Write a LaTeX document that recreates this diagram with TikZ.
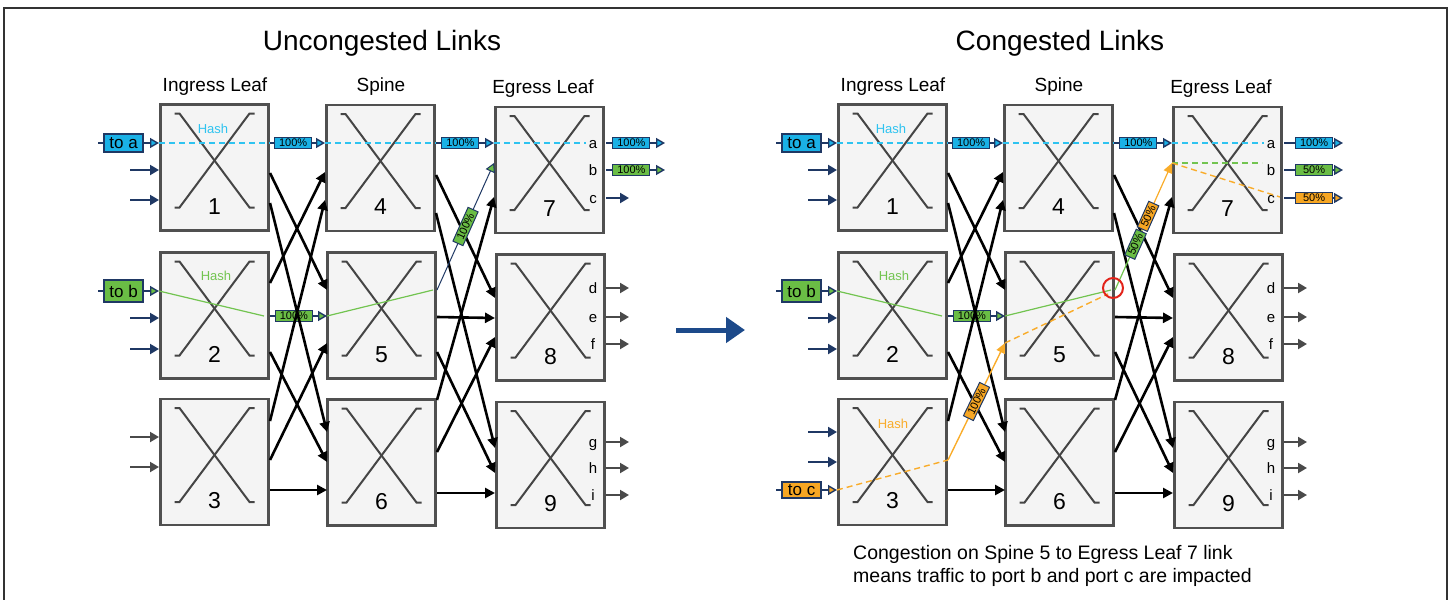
\documentclass[tikz,border=0pt]{standalone}
\usepackage{fontspec}
\setmainfont{Liberation Sans}
\usetikzlibrary{arrows.meta}

\definecolor{navy}{HTML}{1F3864}
\definecolor{tagblue}{HTML}{1AB1E6}
\definecolor{flowblue}{HTML}{2EC3F0}
\definecolor{taggreen}{HTML}{6ABD45}
\definecolor{flowgreen}{HTML}{72C450}
\definecolor{tagorange}{HTML}{F6A623}
\definecolor{floworange}{HTML}{F9AC2A}
\definecolor{boxline}{HTML}{505050}
\definecolor{boxfill}{HTML}{F4F4F4}
\definecolor{xline}{HTML}{454545}
\definecolor{portgray}{HTML}{4A4A4A}
\definecolor{hotred}{HTML}{E2231A}
\definecolor{moveblue}{HTML}{1D4A8A}

\begin{document}
\begin{tikzpicture}[x=1pt, y=-1pt,
  switch/.style={draw=boxline, line width=2.6pt, fill=boxfill, minimum width=108pt, minimum height=126pt, inner sep=0pt},
  cross/.style={draw=xline, line width=2pt},
  num/.style={font=\fontsize{23}{23}\selectfont, anchor=base},
  port/.style={font=\fontsize{15}{15}\selectfont, anchor=base, inner sep=1pt},
  link/.style={line width=2.6pt, -{Triangle[length=10pt,width=10pt]}},
  feed/.style={navy, line width=2pt, -{Triangle[length=9pt,width=10pt]}},
  drain/.style={portgray, line width=2pt, -{Triangle[length=9pt,width=10pt]}},
  tagline/.style={navy, line width=1.4pt},
  tag/.style={draw=navy, text=black, line width=1pt, inner sep=0pt, minimum width=37pt, minimum height=11pt, font=\fontsize{11}{11}\selectfont},
  bigtag/.style={draw=navy, text=black, line width=1.4pt, inner sep=0pt, minimum width=39pt, minimum height=18pt, font=\fontsize{17}{17}\selectfont},
  hash/.style={font=\fontsize{13}{13}\selectfont},
  head/.style={font=\fontsize{19}{19}\selectfont, anchor=base},
  title/.style={font=\fontsize{28}{28}\selectfont, anchor=base},
  flow/.style={line width=1.4pt, dash pattern=on 6pt off 4pt},
  note/.style={font=\fontsize{19.5}{19.5}\selectfont, anchor=base west, inner sep=0pt},
]
\useasboundingbox (0,0) rectangle (1452,600);
\draw[black!80, line width=2pt] (4,612) rectangle (1447,8);

\foreach \p/\dx/\ttl/\tp in {u/0/Uncongested Links/0.43, c/678/Congested Links/0.51}{
\begin{scope}[xshift=\dx pt]
  \node[title] (\p-title) at (382,50) {\ttl};
  \node[head] (\p-ingress) at (215,91) {Ingress Leaf};
  \node[head] (\p-spine) at (381,91) {Spine};
  \node[head] (\p-egress) at (543,93) {Egress Leaf};

  % leaf and spine switches
  \foreach \n/\x/\y in {1/214.5/167.5, 2/214.5/315.5, 3/214.5/462, 4/380.5/168, 5/381.5/315.5,
                        6/381.5/462.5, 7/549.5/170, 8/550.5/317.5, 9/550.5/465}{
    \node[switch] (\p\n) at (\x,\y) {};
    \draw[cross] ([shift={(-40,-54)}]\p\n.center) -- ++(5,0) -- ++(70,94) -- ++(5,0);
    \draw[cross] ([shift={(40,-54)}]\p\n.center) -- ++(-5,0) -- ++(-70,94) -- ++(-5,0);
    \node[num] (\p\n-num) at ([shift={(0,46.5)}]\p\n.center) {\n};
  }

  % uplink / downlink ports
  \foreach \q/\x/\y in {1o1/270/143, 1o2/270/173, 1o3/270/203, 2o1/270/283, 2o2/270/316, 2o3/270/352,
                        3o1/270/421, 3o2/270/460, 3o3/270/490,
                        4i1/325/143, 4i2/325/172, 4i3/325/200, 5i1/327/290, 5i2/327/316, 5i3/327/343,
                        6i1/327/432, 6i2/327/462, 6i3/327/490,
                        4o1/436/143, 4o2/436/175, 4o3/436/213, 5o1/437/290, 5o2/437/317, 5o3/437/352,
                        6o1/437/400, 6o2/437/452, 6o3/437/493,
                        7i1/494/143, 7i2/494/163, 7i3/494/197, 8i1/495/298, 8i2/495/318, 8i3/495/337,
                        9i1/495/448, 9i2/495/473, 9i3/495/493}
    \coordinate (\p\q) at (\x,\y);

  % host ports on the ingress leaves
  \foreach \k/\y in {a/170, b/200, c/318, d/349}{
    \coordinate (\p-src\k) at (130,\y); % invisible node
    \coordinate (\p-dst\k) at (159,\y); % invisible node
    \draw[feed] (\p-src\k) -- (\p-dst\k);
  }

  % host ports on the egress leaves
  \foreach \lt/\y in {a/143, b/170, c/198, d/288, e/317, f/344, g/442, h/468, i/495}{
    \node[port] (\p-\lt) at (593,\y+5) {\lt};
    \coordinate (\p-\lt-out) at (606,\y);
    \coordinate (\p-\lt-end) at (629,\y);
    \coordinate (\p-\lt-far) at (665,\y);
  }
  \foreach \lt in {d,...,i}
    \draw[drain] (\p-\lt-out) -- (\p-\lt-end);

  %% flow to a
  \coordinate (\p-toa-src) at (98,143);
  \coordinate (\p1-toa) at (159,143);
  \coordinate (\p7-a) at (586,143);
  \draw[tagline, -{Triangle[length=9pt,width=10pt,fill=tagblue]}] (\p-toa-src) -- node[bigtag, fill=tagblue, pos=0.42] (\p-toa) {to a} (\p1-toa);
  \node[hash, text=flowblue] (\p-hash1) at (213,129) {Hash};
  \draw[flow, flowblue] (\p1-toa) -- (\p1o1);
  \draw[tagline, -{Triangle[length=9pt,width=10pt,fill=tagblue]}] (\p1o1) -- node[tag, fill=tagblue, pos=0.42] (\p-t14) {100\%} (\p4i1);
  \draw[flow, flowblue] (\p4i1) -- (\p4o1);
  \draw[tagline, -{Triangle[length=9pt,width=10pt,fill=tagblue]}] (\p4o1) -- node[tag, fill=tagblue, pos=0.42] (\p-t47) {100\%} (\p7i1);
  \draw[flow, flowblue] (\p7i1) -- (\p7-a);
  \draw[tagline, -{Triangle[length=9pt,width=10pt,fill=tagblue]}] (\p-a-out) -- node[tag, fill=tagblue, pos=\tp] (\p-ta) {100\%} (\p-a-far);

  %% flow to b
  \coordinate (\p-tob-src) at (98,291);
  \coordinate (\p2-tob) at (159,291);
  \coordinate (\p2-bend) at (264,316);
  \coordinate (\p5-bend) at (433,290);
  \draw[tagline, -{Triangle[length=9pt,width=10pt,fill=taggreen]}] (\p-tob-src) -- node[bigtag, fill=taggreen, minimum height=22pt, pos=0.42] (\p-tob) {to b} (\p2-tob);
  \node[hash, text=flowgreen] (\p-hash2) at (216,276) {Hash};
  \draw[flowgreen, line width=1.2pt] (\p2-tob) -- (\p2-bend);
  \draw[tagline, -{Triangle[length=9pt,width=10pt,fill=taggreen]}] (\p2o2) -- node[tag, fill=taggreen, pos=0.42] (\p-t25) {100\%} (\p5i2);
  \draw[flowgreen, line width=1.2pt] (\p5i2) -- (\p5-bend);

  % fabric links
  \foreach \a/\b in {1o2/5i1, 1o3/6i1, 2o1/4i2, 2o3/6i2, 3o1/4i3, 3o3/6i3,
                     4o2/8i1, 4o3/9i1, 5o2/8i2, 5o3/9i2, 6o1/7i3, 6o2/8i3, 6o3/9i3}
    \draw[link] (\p\a) -- (\p\b);
\end{scope}
}

%% uncongested side
\foreach \k/\y in {e/437, f/467}{
  \coordinate (u-src\k) at (130,\y); % invisible node
  \coordinate (u-dst\k) at (159,\y); % invisible node
  \draw[drain] (u-src\k) -- (u-dst\k);
}
\draw[link] (u3o2) -- (u5i3);
\draw[navy, line width=1pt, -{Triangle[length=9pt,width=10pt,fill=taggreen]}] (u5o1) -- node[tag, fill=taggreen, sloped, pos=0.5] (u-t57) {100\%} (u7i2);
\draw[tagline, -{Triangle[length=9pt,width=10pt,fill=taggreen]}] (u-b-out) -- node[tag, fill=taggreen, pos=0.43] (u-tb) {100\%} (u-b-far);
\draw[feed] (u-c-out) -- (u-c-end);

%% move to congested side
\coordinate (move-from) at (676,330);
\coordinate (move-to) at (745,330);
\draw[moveblue, line width=5pt, -{Triangle[length=19pt,width=25pt]}] (move-from) -- (move-to);

%% congested side
\begin{scope}[xshift=678pt]
  \foreach \k/\y in {e/432, f/462}{
    \coordinate (c-src\k) at (130,\y); % invisible node
    \coordinate (c-dst\k) at (159,\y); % invisible node
    \draw[feed] (c-src\k) -- (c-dst\k);
  }
  % flow to c
  \coordinate (c-toc-src) at (98,490);
  \coordinate (c3-toc) at (159,490);
  \coordinate (c5-bend2) at (430,294);
  \draw[tagline, -{Triangle[length=9pt,width=10pt,fill=tagorange]}] (c-toc-src) -- node[bigtag, fill=tagorange, minimum height=16pt, pos=0.42] (c-toc) {to c} (c3-toc);
  \node[hash, text=floworange] (c-hash3) at (215,424) {Hash};
  \draw[flow, floworange] (c3-toc) -- (c3o2);
  \draw[floworange, line width=1.4pt, -{Triangle[length=10pt,width=9pt]}] (c3o2) -- node[tag, fill=tagorange, sloped, pos=0.5] (c-t35) {100\%} (c5i3);
  \draw[flow, floworange] (c5i3) -- (c5-bend2);

  % shared spine 5 -> egress 7 link
  \path (c5o1) -- coordinate[pos=0.47] (c57-mid) (c7i2);
  \draw[flowgreen, line width=1.2pt] (c5o1) -- (c57-mid);
  \draw[floworange, line width=1.2pt, -{Triangle[length=10pt,width=9pt]}] (c57-mid) -- (c7i2);
  \path (c5o1) -- node[tag, fill=taggreen, sloped, pos=0.36, minimum width=28pt] (c-t57g) {50\%}
                  node[tag, fill=tagorange, sloped, pos=0.58, minimum width=28pt] (c-t57o) {50\%} (c7i2);
  \node[circle, draw=hotred, line width=2pt, minimum size=20pt, inner sep=0pt] (c-hot) at (435,288) {};

  \coordinate (c7-b) at (584,163);
  \coordinate (c7-c) at (602,197);
  \draw[flow, flowgreen] (c7i2) -- (c7-b);
  \draw[flow, floworange] (c7i2) -- (c7-c);
  \draw[tagline, -{Triangle[length=9pt,width=10pt,fill=taggreen]}] (c-b-out) -- node[tag, fill=taggreen, pos=0.51] (c-tb) {50\%} (c-b-far);
  \draw[tagline, -{Triangle[length=9pt,width=10pt,fill=tagorange]}] (c-c-out) -- node[tag, fill=tagorange, pos=0.51] (c-tc) {50\%} (c-c-far);

  \node[note] (note1) at (175,559) {Congestion on Spine 5 to Egress Leaf 7 link};
  \node[note] (note2) at (175,582) {means traffic to port b and port c are impacted};
\end{scope}
\end{tikzpicture}
\end{document}
